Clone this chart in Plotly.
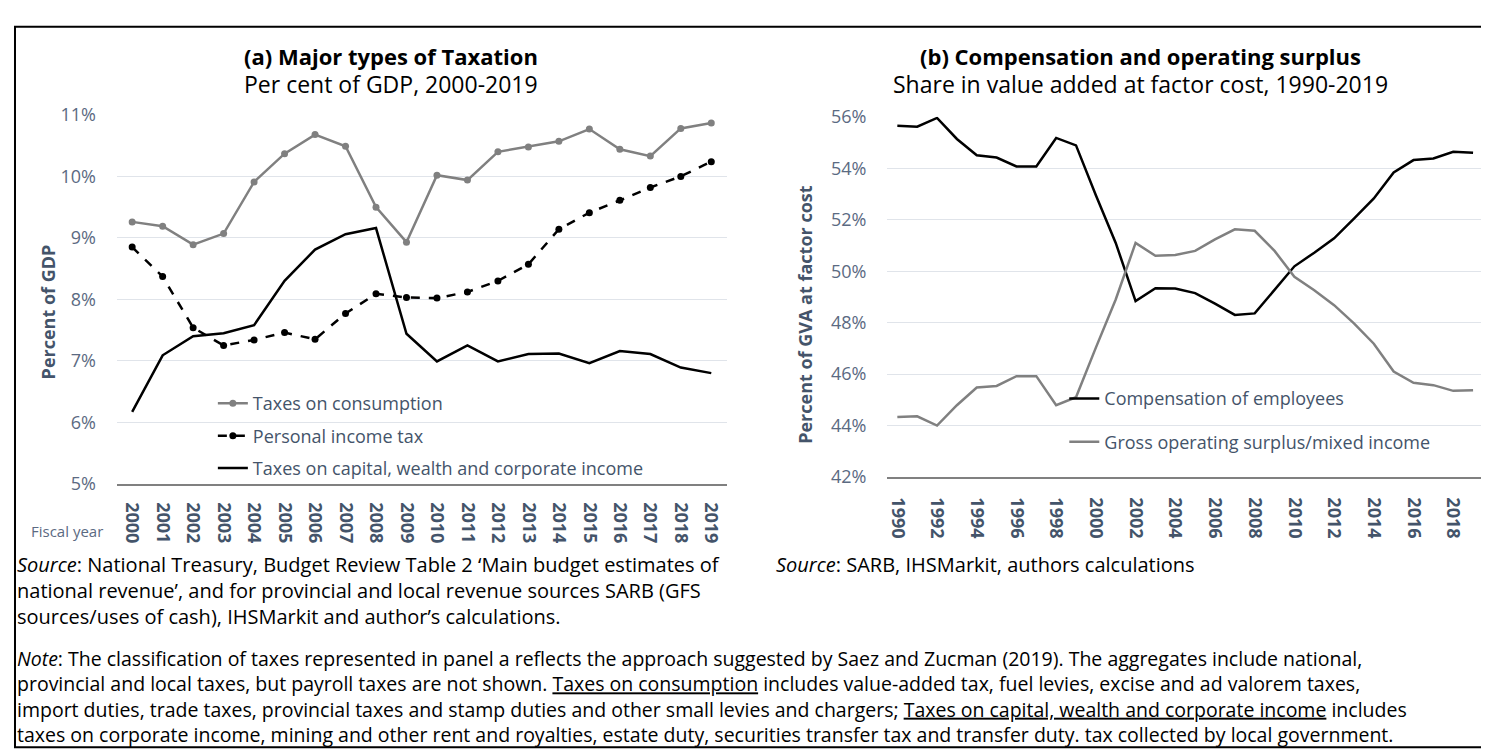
import plotly.graph_objects as go

# ---------------- data ----------------
years_a = [str(y) for y in range(2000, 2020)]
consumption = [9.26, 9.19, 8.89, 9.07, 9.91, 10.37, 10.68, 10.49, 9.50, 8.93,
               10.02, 9.94, 10.40, 10.48, 10.57, 10.77, 10.44, 10.33, 10.78, 10.87]
personal_income = [8.85, 8.37, 7.54, 7.25, 7.34, 7.46, 7.35, 7.77, 8.09, 8.03,
                   8.02, 8.12, 8.30, 8.57, 9.14, 9.41, 9.61, 9.82, 10.00, 10.24]
capital_wealth = [6.17, 7.09, 7.40, 7.45, 7.58, 8.30, 8.81, 9.06, 9.16, 7.44,
                  6.99, 7.25, 6.99, 7.11, 7.12, 6.96, 7.16, 7.11, 6.89, 6.80]

years_b = [str(y) for y in range(1990, 2020)]
compensation = [55.65, 55.62, 55.96, 55.14, 54.51, 54.42, 54.07, 54.07, 55.18, 54.89,
                52.95, 51.10, 48.84, 49.34, 49.33, 49.15, 48.74, 48.30, 48.36, 49.27,
                50.19, 50.72, 51.28, 52.04, 52.83, 53.84, 54.32, 54.38, 54.64, 54.60]
gross_surplus = [44.33, 44.36, 44.00, 44.79, 45.48, 45.54, 45.92, 45.92, 44.79, 45.10,
                 47.03, 48.90, 51.10, 50.60, 50.63, 50.79, 51.24, 51.63, 51.57, 50.79,
                 49.78, 49.26, 48.68, 47.97, 47.18, 46.10, 45.66, 45.57, 45.35, 45.37]

ticks_a = [5, 6, 7, 8, 9, 10, 11]
ticks_b = [42, 44, 46, 48, 50, 52, 54, 56]
ticks_b_years = [str(y) for y in range(1990, 2020, 2)]

source_a = ["<i>Source</i>: National Treasury, Budget Review Table 2 \u2018Main budget estimates of",
            "national revenue\u2019, and for provincial and local revenue sources SARB (GFS",
            "sources/uses of cash), IHSMarkit and author\u2019s calculations."]
source_b = "<i>Source</i>: SARB, IHSMarkit, authors calculations"
note_lines = [
    "<i>Note</i>: The classification of taxes represented in panel a reflects the approach suggested by Saez and Zucman (2019). The aggregates include national,",
    "provincial and local taxes, but payroll taxes are not shown. <u>Taxes on consumption</u> includes value-added tax, fuel levies, excise and ad valorem taxes,",
    "import duties, trade taxes, provincial taxes and stamp duties and other small levies and chargers; <u>Taxes on capital, wealth and corporate income</u> includes",
    "taxes on corporate income, mining and other rent and royalties, estate duty, securities transfer tax and transfer duty. tax collected by local government.",
]

# ---------------- figure ----------------
W, H = 1489, 754
FONT = "Open Sans"
AX = "#44546A"
TICK = "#5B6A82"
GRID = "#E0E4EA"

def px(x):
    return x / W

def py(y):
    return 1 - y / H

fig = go.Figure()

fig.add_trace(go.Scatter(x=years_a, y=consumption, name="Taxes on consumption",
                         mode="lines+markers", line=dict(color="#808080", width=2.5),
                         marker=dict(color="#808080", size=7), legend="legend",
                         legendgroup="a1", xaxis="x", yaxis="y"))
fig.add_trace(go.Scatter(x=years_a, y=personal_income, name="Personal income tax",
                         mode="lines+markers", line=dict(color="black", width=2.5, dash="dash"),
                         marker=dict(color="black", size=7), legend="legend",
                         legendgroup="a2", xaxis="x", yaxis="y"))
fig.add_trace(go.Scatter(x=years_a, y=capital_wealth, name="Taxes on capital, wealth and corporate income",
                         mode="lines", line=dict(color="black", width=2.5), legend="legend",
                         legendgroup="a3", xaxis="x", yaxis="y"))

fig.add_trace(go.Scatter(x=years_b, y=compensation, name="Compensation of employees",
                         mode="lines", line=dict(color="black", width=2.5), legend="legend2",
                         legendgroup="b1", xaxis="x2", yaxis="y2"))
fig.add_trace(go.Scatter(x=years_b, y=gross_surplus, name="Gross operating surplus/mixed income",
                         mode="lines", line=dict(color="#808080", width=2.5), legend="legend2",
                         legendgroup="b2", xaxis="x2", yaxis="y2"))

xcommon = dict(type="category", showgrid=False, showline=True, linecolor="#808080",
               linewidth=1.5, tickangle=90, ticks="",
               tickfont=dict(family=FONT, size=18, color=AX, weight="bold"))
ycommon = dict(showgrid=True, gridcolor=GRID, gridwidth=1, zeroline=False, showline=False,
               ticks="", ticklabelstandoff=20,
               tickfont=dict(family=FONT, size=18, color=TICK))

fig.update_layout(
    width=W, height=H,
    margin=dict(l=0, r=0, t=0, b=0),
    paper_bgcolor="white", plot_bgcolor="white",
    font=dict(family=FONT, color="black"),
    showlegend=True,
    xaxis=dict(xcommon, domain=[px(108), px(718)], range=[-0.5, 19.5], anchor="y",
               ticklabelstandoff=13),
    yaxis=dict(ycommon, domain=[py(478), py(97)], range=[5, 11], tickvals=ticks_a,
               ticktext=[f"{v}%" for v in ticks_a], anchor="x"),
    xaxis2=dict(xcommon, domain=[px(879), px(1475)], range=[-0.5, 29.5], anchor="y2",
                tickvals=ticks_b_years, ticklabelstandoff=15),
    yaxis2=dict(ycommon, domain=[py(471), py(99)], range=[42, 56], tickvals=ticks_b,
                ticktext=[f"{v}%" for v in ticks_b], anchor="x2"),
    legend=dict(x=px(204), y=py(376), xanchor="left", yanchor="top", bgcolor="rgba(0,0,0,0)",
                font=dict(family=FONT, size=18, color=AX), tracegroupgap=6, itemwidth=30),
    legend2=dict(x=px(1056), y=py(371), xanchor="left", yanchor="top", bgcolor="rgba(0,0,0,0)",
                 font=dict(family=FONT, size=18, color=AX), tracegroupgap=17, itemwidth=30),
)

ann = []
def text(x, y, s, size=16, color="black", xanchor="center", yanchor="middle", angle=0, align="left"):
    ann.append(dict(x=px(x), y=py(y), xref="paper", yref="paper", text=s, showarrow=False,
                    xanchor=xanchor, yanchor=yanchor, textangle=angle, align=align,
                    borderpad=0, borderwidth=0,
                    font=dict(family=FONT, size=size, color=color)))

text(382, 36, "<b>(a) Major types of Taxation</b>", size=22)
text(382, 65.5, "Per cent of GDP, 2000-2019", size=23)
text(1132, 36, "<b>(b) Compensation and operating surplus</b>", size=22)
text(1132, 65.5, "Share in value added at factor cost, 1990-2019", size=23)

text(39, 300, "<b>Percent of GDP</b>", size=18, color=AX, angle=-90)
text(797, 303, "<b>Percent of GVA at factor cost</b>", size=18, color=AX, angle=-90)
text(58, 527, "Fiscal year", size=15, color=TICK)

text(8, 547, "<br>".join(source_a), size=20, xanchor="left", yanchor="top")
text(768, 547, source_b, size=20, xanchor="left", yanchor="top")
text(8, 644, "<br>".join(note_lines), size=19.5, xanchor="left", yanchor="top")

fig.update_layout(annotations=ann)

fig.add_shape(type="rect", xref="paper", yref="paper", x0=px(6), x1=px(1483), y0=py(750), y1=py(6),
              line=dict(color="black", width=2), fillcolor="rgba(0,0,0,0)", layer="below")

fig.write_html("out.html")
